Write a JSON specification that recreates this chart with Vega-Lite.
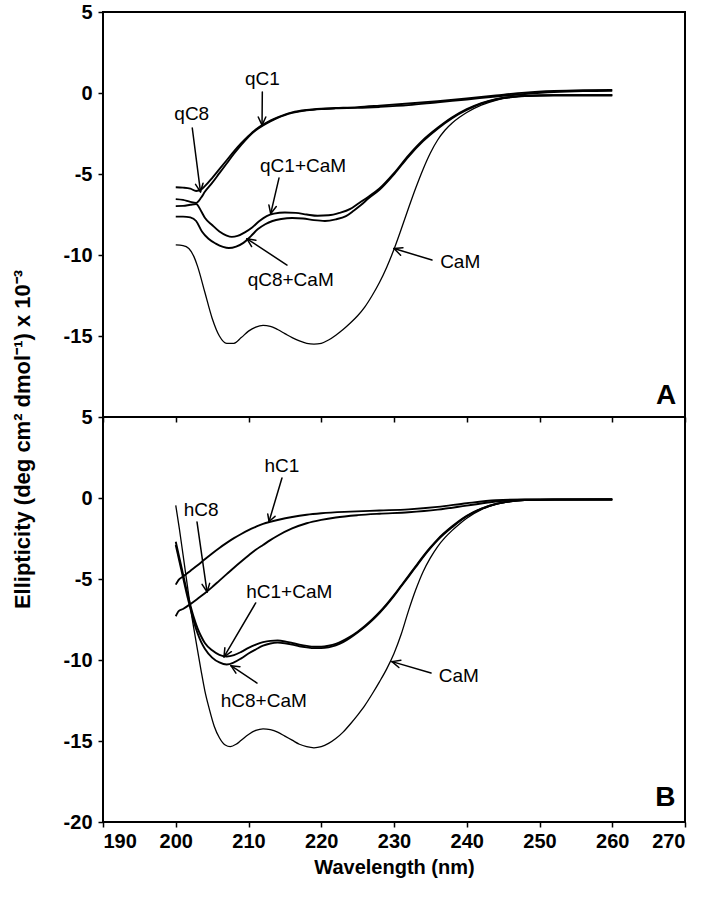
{
  "$schema": "https://vega.github.io/schema/vega-lite/v6.json",
  "background": "white",
  "padding": {"left": 12, "top": 1, "right": 10, "bottom": 10},
  "bounds": "flush",
  "spacing": 0,
  "title": {"text": "Ellipticity (deg cm² dmol⁻¹) x 10⁻³", "orient": "left", "anchor": "middle", "fontSize": 22, "font": "Liberation Sans", "fontWeight": "bold", "color": "black", "offset": 27},
  "config": {
    "view": {"stroke": "black", "strokeWidth": 2},
    "axis": {"labelFont": "Liberation Sans", "labelFontWeight": "bold", "labelFontSize": 20, "labelColor": "black", "grid": false, "domain": false, "tickColor": "black", "tickWidth": 1.5, "tickSize": 5, "titleFont": "Liberation Sans", "titleColor": "black", "titleFontWeight": "bold"}
  },
  "datasets": {
    "A": [
      {"s":"CaM","w":200,"e":-9.38},{"s":"CaM","w":201,"e":-9.42},{"s":"CaM","w":201.8,"e":-9.6},{"s":"CaM","w":202.5,"e":-10.1},{"s":"CaM","w":203,"e":-10.7},{"s":"CaM","w":204,"e":-12.3},{"s":"CaM","w":205,"e":-13.9},{"s":"CaM","w":206,"e":-15.0},{"s":"CaM","w":207,"e":-15.45},{"s":"CaM","w":208,"e":-15.45},{"s":"CaM","w":209,"e":-15.1},{"s":"CaM","w":210,"e":-14.7},{"s":"CaM","w":211,"e":-14.45},{"s":"CaM","w":212,"e":-14.35},{"s":"CaM","w":213,"e":-14.4},{"s":"CaM","w":214,"e":-14.6},{"s":"CaM","w":215,"e":-14.85},{"s":"CaM","w":216,"e":-15.1},{"s":"CaM","w":217,"e":-15.3},{"s":"CaM","w":218,"e":-15.45},{"s":"CaM","w":219,"e":-15.5},{"s":"CaM","w":220,"e":-15.45},{"s":"CaM","w":221,"e":-15.25},{"s":"CaM","w":222,"e":-14.95},{"s":"CaM","w":223,"e":-14.6},{"s":"CaM","w":224,"e":-14.2},{"s":"CaM","w":225,"e":-13.75},{"s":"CaM","w":226,"e":-13.2},{"s":"CaM","w":227,"e":-12.5},{"s":"CaM","w":228,"e":-11.7},{"s":"CaM","w":229,"e":-10.75},{"s":"CaM","w":230,"e":-9.65},{"s":"CaM","w":231,"e":-8.4},{"s":"CaM","w":232,"e":-7.1},{"s":"CaM","w":233,"e":-5.85},{"s":"CaM","w":234,"e":-4.7},{"s":"CaM","w":235,"e":-3.7},{"s":"CaM","w":236,"e":-2.9},{"s":"CaM","w":237,"e":-2.3},{"s":"CaM","w":238,"e":-1.85},{"s":"CaM","w":239,"e":-1.5},{"s":"CaM","w":240,"e":-1.2},{"s":"CaM","w":242,"e":-0.75},{"s":"CaM","w":244,"e":-0.45},{"s":"CaM","w":246,"e":-0.27},{"s":"CaM","w":248,"e":-0.18},{"s":"CaM","w":250,"e":-0.14},{"s":"CaM","w":255,"e":-0.12},{"s":"CaM","w":260,"e":-0.12},
      {"s":"qC8","w":200,"e":-5.82},{"s":"qC8","w":201,"e":-5.84},{"s":"qC8","w":202,"e":-5.9},{"s":"qC8","w":202.8,"e":-6.05},{"s":"qC8","w":203.5,"e":-5.95},{"s":"qC8","w":204,"e":-5.75},{"s":"qC8","w":205,"e":-5.25},{"s":"qC8","w":206,"e":-4.7},{"s":"qC8","w":207,"e":-4.15},{"s":"qC8","w":208,"e":-3.6},{"s":"qC8","w":209,"e":-3.1},{"s":"qC8","w":210,"e":-2.65},{"s":"qC8","w":211,"e":-2.25},{"s":"qC8","w":212,"e":-1.95},{"s":"qC8","w":213,"e":-1.7},{"s":"qC8","w":214,"e":-1.5},{"s":"qC8","w":215,"e":-1.33},{"s":"qC8","w":216,"e":-1.2},{"s":"qC8","w":218,"e":-1.05},{"s":"qC8","w":220,"e":-0.97},{"s":"qC8","w":222,"e":-0.93},{"s":"qC8","w":225,"e":-0.87},{"s":"qC8","w":228,"e":-0.78},{"s":"qC8","w":232,"e":-0.65},{"s":"qC8","w":236,"e":-0.5},{"s":"qC8","w":240,"e":-0.33},{"s":"qC8","w":244,"e":-0.15},{"s":"qC8","w":248,"e":0.02},{"s":"qC8","w":252,"e":0.12},{"s":"qC8","w":256,"e":0.17},{"s":"qC8","w":260,"e":0.19},
      {"s":"qC1","w":200,"e":-6.55},{"s":"qC1","w":201,"e":-6.6},{"s":"qC1","w":202,"e":-6.72},{"s":"qC1","w":202.8,"e":-6.78},{"s":"qC1","w":203.5,"e":-6.45},{"s":"qC1","w":204,"e":-6.1},{"s":"qC1","w":205,"e":-5.55},{"s":"qC1","w":206,"e":-4.95},{"s":"qC1","w":207,"e":-4.35},{"s":"qC1","w":208,"e":-3.75},{"s":"qC1","w":209,"e":-3.2},{"s":"qC1","w":210,"e":-2.7},{"s":"qC1","w":211,"e":-2.3},{"s":"qC1","w":212,"e":-2.0},{"s":"qC1","w":213,"e":-1.75},{"s":"qC1","w":214,"e":-1.53},{"s":"qC1","w":215,"e":-1.36},{"s":"qC1","w":216,"e":-1.23},{"s":"qC1","w":218,"e":-1.07},{"s":"qC1","w":220,"e":-0.99},{"s":"qC1","w":222,"e":-0.95},{"s":"qC1","w":225,"e":-0.92},{"s":"qC1","w":228,"e":-0.86},{"s":"qC1","w":232,"e":-0.75},{"s":"qC1","w":236,"e":-0.57},{"s":"qC1","w":240,"e":-0.4},{"s":"qC1","w":244,"e":-0.22},{"s":"qC1","w":248,"e":-0.06},{"s":"qC1","w":252,"e":0.06},{"s":"qC1","w":256,"e":0.12},{"s":"qC1","w":260,"e":0.14},
      {"s":"qC1+CaM","w":200,"e":-6.98},{"s":"qC1+CaM","w":201,"e":-6.97},{"s":"qC1+CaM","w":202,"e":-6.9},{"s":"qC1+CaM","w":202.8,"e":-6.85},{"s":"qC1+CaM","w":203.5,"e":-7.3},{"s":"qC1+CaM","w":204,"e":-7.7},{"s":"qC1+CaM","w":205,"e":-8.15},{"s":"qC1+CaM","w":206,"e":-8.55},{"s":"qC1+CaM","w":207,"e":-8.8},{"s":"qC1+CaM","w":207.7,"e":-8.88},{"s":"qC1+CaM","w":208.5,"e":-8.82},{"s":"qC1+CaM","w":209.5,"e":-8.6},{"s":"qC1+CaM","w":210.5,"e":-8.3},{"s":"qC1+CaM","w":211.5,"e":-7.9},{"s":"qC1+CaM","w":212.5,"e":-7.6},{"s":"qC1+CaM","w":213.5,"e":-7.45},{"s":"qC1+CaM","w":215,"e":-7.38},{"s":"qC1+CaM","w":216.5,"e":-7.4},{"s":"qC1+CaM","w":218,"e":-7.5},{"s":"qC1+CaM","w":219.5,"e":-7.58},{"s":"qC1+CaM","w":221,"e":-7.55},{"s":"qC1+CaM","w":222.5,"e":-7.4},{"s":"qC1+CaM","w":224,"e":-7.15},{"s":"qC1+CaM","w":225,"e":-6.85},{"s":"qC1+CaM","w":226.5,"e":-6.4},{"s":"qC1+CaM","w":228,"e":-5.9},{"s":"qC1+CaM","w":230,"e":-4.95},{"s":"qC1+CaM","w":232,"e":-3.85},{"s":"qC1+CaM","w":234,"e":-2.9},{"s":"qC1+CaM","w":236,"e":-2.15},{"s":"qC1+CaM","w":238,"e":-1.5},{"s":"qC1+CaM","w":240,"e":-1.0},{"s":"qC1+CaM","w":242,"e":-0.62},{"s":"qC1+CaM","w":244,"e":-0.38},{"s":"qC1+CaM","w":246,"e":-0.24},{"s":"qC1+CaM","w":248,"e":-0.17},{"s":"qC1+CaM","w":252,"e":-0.13},{"s":"qC1+CaM","w":260,"e":-0.13},
      {"s":"qC8+CaM","w":200,"e":-7.63},{"s":"qC8+CaM","w":201,"e":-7.63},{"s":"qC8+CaM","w":202,"e":-7.68},{"s":"qC8+CaM","w":202.8,"e":-7.9},{"s":"qC8+CaM","w":203.6,"e":-8.55},{"s":"qC8+CaM","w":204.5,"e":-9.0},{"s":"qC8+CaM","w":205.5,"e":-9.3},{"s":"qC8+CaM","w":206.5,"e":-9.5},{"s":"qC8+CaM","w":207.3,"e":-9.57},{"s":"qC8+CaM","w":208.3,"e":-9.48},{"s":"qC8+CaM","w":209.3,"e":-9.25},{"s":"qC8+CaM","w":210.3,"e":-8.85},{"s":"qC8+CaM","w":211.3,"e":-8.4},{"s":"qC8+CaM","w":212.3,"e":-8.1},{"s":"qC8+CaM","w":213.3,"e":-7.9},{"s":"qC8+CaM","w":214.5,"e":-7.78},{"s":"qC8+CaM","w":216,"e":-7.72},{"s":"qC8+CaM","w":217.5,"e":-7.75},{"s":"qC8+CaM","w":219,"e":-7.85},{"s":"qC8+CaM","w":220.5,"e":-7.9},{"s":"qC8+CaM","w":222,"e":-7.8},{"s":"qC8+CaM","w":223.4,"e":-7.6},{"s":"qC8+CaM","w":224.5,"e":-7.25},{"s":"qC8+CaM","w":225.5,"e":-6.9},{"s":"qC8+CaM","w":226.5,"e":-6.5},{"s":"qC8+CaM","w":228,"e":-5.98},{"s":"qC8+CaM","w":230,"e":-5.02},{"s":"qC8+CaM","w":232,"e":-3.92},{"s":"qC8+CaM","w":234,"e":-2.97},{"s":"qC8+CaM","w":236,"e":-2.2},{"s":"qC8+CaM","w":238,"e":-1.55},{"s":"qC8+CaM","w":240,"e":-1.05},{"s":"qC8+CaM","w":242,"e":-0.66},{"s":"qC8+CaM","w":244,"e":-0.4},{"s":"qC8+CaM","w":246,"e":-0.26},{"s":"qC8+CaM","w":248,"e":-0.19},{"s":"qC8+CaM","w":252,"e":-0.15},{"s":"qC8+CaM","w":260,"e":-0.15}
    ],
    "B": [
      {"s":"CaM","w":200,"e":-0.45},{"s":"CaM","w":200.5,"e":-1.9},{"s":"CaM","w":201,"e":-3.5},{"s":"CaM","w":201.5,"e":-5.1},{"s":"CaM","w":202,"e":-6.7},{"s":"CaM","w":202.5,"e":-8.1},{"s":"CaM","w":203,"e":-9.4},{"s":"CaM","w":203.5,"e":-10.7},{"s":"CaM","w":204,"e":-11.9},{"s":"CaM","w":204.6,"e":-13.0},{"s":"CaM","w":205.3,"e":-14.1},{"s":"CaM","w":206,"e":-14.8},{"s":"CaM","w":206.8,"e":-15.25},{"s":"CaM","w":207.5,"e":-15.35},{"s":"CaM","w":208.3,"e":-15.2},{"s":"CaM","w":209,"e":-14.95},{"s":"CaM","w":210,"e":-14.6},{"s":"CaM","w":211,"e":-14.35},{"s":"CaM","w":212,"e":-14.25},{"s":"CaM","w":213,"e":-14.3},{"s":"CaM","w":214,"e":-14.45},{"s":"CaM","w":215,"e":-14.7},{"s":"CaM","w":216,"e":-14.95},{"s":"CaM","w":217,"e":-15.2},{"s":"CaM","w":218,"e":-15.35},{"s":"CaM","w":219,"e":-15.42},{"s":"CaM","w":220,"e":-15.35},{"s":"CaM","w":221,"e":-15.15},{"s":"CaM","w":222,"e":-14.85},{"s":"CaM","w":223,"e":-14.45},{"s":"CaM","w":224,"e":-13.95},{"s":"CaM","w":225,"e":-13.4},{"s":"CaM","w":226,"e":-12.8},{"s":"CaM","w":227,"e":-12.1},{"s":"CaM","w":228,"e":-11.35},{"s":"CaM","w":229,"e":-10.55},{"s":"CaM","w":230,"e":-9.6},{"s":"CaM","w":231,"e":-8.4},{"s":"CaM","w":232,"e":-6.95},{"s":"CaM","w":233,"e":-5.65},{"s":"CaM","w":234,"e":-4.55},{"s":"CaM","w":235,"e":-3.7},{"s":"CaM","w":236,"e":-3.0},{"s":"CaM","w":237,"e":-2.45},{"s":"CaM","w":238,"e":-2.0},{"s":"CaM","w":239,"e":-1.6},{"s":"CaM","w":240,"e":-1.25},{"s":"CaM","w":242,"e":-0.72},{"s":"CaM","w":244,"e":-0.4},{"s":"CaM","w":246,"e":-0.22},{"s":"CaM","w":248,"e":-0.14},{"s":"CaM","w":250,"e":-0.1},{"s":"CaM","w":260,"e":-0.1},
      {"s":"hC1","w":200,"e":-5.35},{"s":"hC1","w":200.4,"e":-5.05},{"s":"hC1","w":201,"e":-4.85},{"s":"hC1","w":202,"e":-4.5},{"s":"hC1","w":203,"e":-4.15},{"s":"hC1","w":204,"e":-3.78},{"s":"hC1","w":205,"e":-3.42},{"s":"hC1","w":206,"e":-3.08},{"s":"hC1","w":207,"e":-2.77},{"s":"hC1","w":208,"e":-2.48},{"s":"hC1","w":209,"e":-2.22},{"s":"hC1","w":210,"e":-1.98},{"s":"hC1","w":211,"e":-1.78},{"s":"hC1","w":212,"e":-1.6},{"s":"hC1","w":213,"e":-1.47},{"s":"hC1","w":214,"e":-1.36},{"s":"hC1","w":216,"e":-1.17},{"s":"hC1","w":218,"e":-1.03},{"s":"hC1","w":220,"e":-0.94},{"s":"hC1","w":224,"e":-0.84},{"s":"hC1","w":228,"e":-0.77},{"s":"hC1","w":232,"e":-0.7},{"s":"hC1","w":236,"e":-0.55},{"s":"hC1","w":240,"e":-0.32},{"s":"hC1","w":244,"e":-0.14},{"s":"hC1","w":248,"e":-0.09},{"s":"hC1","w":260,"e":-0.08},
      {"s":"hC8","w":200,"e":-7.3},{"s":"hC8","w":200.4,"e":-6.98},{"s":"hC8","w":201,"e":-6.85},{"s":"hC8","w":202,"e":-6.55},{"s":"hC8","w":203,"e":-6.22},{"s":"hC8","w":204,"e":-5.88},{"s":"hC8","w":205,"e":-5.5},{"s":"hC8","w":206,"e":-5.1},{"s":"hC8","w":207,"e":-4.7},{"s":"hC8","w":208,"e":-4.3},{"s":"hC8","w":209,"e":-3.92},{"s":"hC8","w":210,"e":-3.55},{"s":"hC8","w":211,"e":-3.2},{"s":"hC8","w":212,"e":-2.9},{"s":"hC8","w":213,"e":-2.6},{"s":"hC8","w":214,"e":-2.33},{"s":"hC8","w":216,"e":-1.88},{"s":"hC8","w":218,"e":-1.56},{"s":"hC8","w":220,"e":-1.35},{"s":"hC8","w":222,"e":-1.2},{"s":"hC8","w":225,"e":-1.06},{"s":"hC8","w":228,"e":-0.97},{"s":"hC8","w":232,"e":-0.88},{"s":"hC8","w":236,"e":-0.72},{"s":"hC8","w":240,"e":-0.47},{"s":"hC8","w":244,"e":-0.22},{"s":"hC8","w":248,"e":-0.1},{"s":"hC8","w":260,"e":-0.08},
      {"s":"hC1+CaM","w":200,"e":-2.7},{"s":"hC1+CaM","w":200.5,"e":-3.7},{"s":"hC1+CaM","w":201,"e":-4.7},{"s":"hC1+CaM","w":201.5,"e":-5.7},{"s":"hC1+CaM","w":202,"e":-6.6},{"s":"hC1+CaM","w":202.5,"e":-7.4},{"s":"hC1+CaM","w":203,"e":-8.05},{"s":"hC1+CaM","w":203.5,"e":-8.55},{"s":"hC1+CaM","w":204,"e":-8.95},{"s":"hC1+CaM","w":205,"e":-9.4},{"s":"hC1+CaM","w":206,"e":-9.68},{"s":"hC1+CaM","w":207,"e":-9.78},{"s":"hC1+CaM","w":208,"e":-9.7},{"s":"hC1+CaM","w":209,"e":-9.5},{"s":"hC1+CaM","w":210,"e":-9.25},{"s":"hC1+CaM","w":211,"e":-9.05},{"s":"hC1+CaM","w":212,"e":-8.9},{"s":"hC1+CaM","w":213,"e":-8.82},{"s":"hC1+CaM","w":214,"e":-8.8},{"s":"hC1+CaM","w":215,"e":-8.85},{"s":"hC1+CaM","w":216,"e":-8.95},{"s":"hC1+CaM","w":217,"e":-9.05},{"s":"hC1+CaM","w":218,"e":-9.13},{"s":"hC1+CaM","w":219,"e":-9.18},{"s":"hC1+CaM","w":220,"e":-9.18},{"s":"hC1+CaM","w":221,"e":-9.12},{"s":"hC1+CaM","w":222,"e":-9.0},{"s":"hC1+CaM","w":223,"e":-8.8},{"s":"hC1+CaM","w":224,"e":-8.55},{"s":"hC1+CaM","w":225,"e":-8.25},{"s":"hC1+CaM","w":226,"e":-7.9},{"s":"hC1+CaM","w":227,"e":-7.5},{"s":"hC1+CaM","w":228,"e":-7.05},{"s":"hC1+CaM","w":229,"e":-6.55},{"s":"hC1+CaM","w":230,"e":-6.0},{"s":"hC1+CaM","w":231,"e":-5.4},{"s":"hC1+CaM","w":232,"e":-4.8},{"s":"hC1+CaM","w":233,"e":-4.2},{"s":"hC1+CaM","w":234,"e":-3.6},{"s":"hC1+CaM","w":235,"e":-3.05},{"s":"hC1+CaM","w":236,"e":-2.55},{"s":"hC1+CaM","w":238,"e":-1.75},{"s":"hC1+CaM","w":240,"e":-1.1},{"s":"hC1+CaM","w":242,"e":-0.65},{"s":"hC1+CaM","w":244,"e":-0.36},{"s":"hC1+CaM","w":246,"e":-0.2},{"s":"hC1+CaM","w":248,"e":-0.13},{"s":"hC1+CaM","w":252,"e":-0.1},{"s":"hC1+CaM","w":260,"e":-0.1},
      {"s":"hC8+CaM","w":200,"e":-2.9},{"s":"hC8+CaM","w":200.5,"e":-3.9},{"s":"hC8+CaM","w":201,"e":-4.9},{"s":"hC8+CaM","w":201.5,"e":-5.9},{"s":"hC8+CaM","w":202,"e":-6.8},{"s":"hC8+CaM","w":202.5,"e":-7.65},{"s":"hC8+CaM","w":203,"e":-8.35},{"s":"hC8+CaM","w":203.5,"e":-8.9},{"s":"hC8+CaM","w":204,"e":-9.3},{"s":"hC8+CaM","w":205,"e":-9.85},{"s":"hC8+CaM","w":206,"e":-10.15},{"s":"hC8+CaM","w":207,"e":-10.28},{"s":"hC8+CaM","w":208,"e":-10.15},{"s":"hC8+CaM","w":209,"e":-9.9},{"s":"hC8+CaM","w":210,"e":-9.6},{"s":"hC8+CaM","w":211,"e":-9.35},{"s":"hC8+CaM","w":212,"e":-9.12},{"s":"hC8+CaM","w":213,"e":-8.98},{"s":"hC8+CaM","w":214,"e":-8.93},{"s":"hC8+CaM","w":215,"e":-8.97},{"s":"hC8+CaM","w":216,"e":-9.05},{"s":"hC8+CaM","w":217,"e":-9.15},{"s":"hC8+CaM","w":218,"e":-9.22},{"s":"hC8+CaM","w":219,"e":-9.27},{"s":"hC8+CaM","w":220,"e":-9.27},{"s":"hC8+CaM","w":221,"e":-9.22},{"s":"hC8+CaM","w":222,"e":-9.1},{"s":"hC8+CaM","w":223,"e":-8.9},{"s":"hC8+CaM","w":224,"e":-8.62},{"s":"hC8+CaM","w":225,"e":-8.3},{"s":"hC8+CaM","w":226,"e":-7.95},{"s":"hC8+CaM","w":227,"e":-7.55},{"s":"hC8+CaM","w":228,"e":-7.1},{"s":"hC8+CaM","w":229,"e":-6.6},{"s":"hC8+CaM","w":230,"e":-6.05},{"s":"hC8+CaM","w":231,"e":-5.45},{"s":"hC8+CaM","w":232,"e":-4.85},{"s":"hC8+CaM","w":233,"e":-4.25},{"s":"hC8+CaM","w":234,"e":-3.65},{"s":"hC8+CaM","w":235,"e":-3.1},{"s":"hC8+CaM","w":236,"e":-2.6},{"s":"hC8+CaM","w":238,"e":-1.8},{"s":"hC8+CaM","w":240,"e":-1.13},{"s":"hC8+CaM","w":242,"e":-0.67},{"s":"hC8+CaM","w":244,"e":-0.37},{"s":"hC8+CaM","w":246,"e":-0.21},{"s":"hC8+CaM","w":248,"e":-0.13},{"s":"hC8+CaM","w":252,"e":-0.1},{"s":"hC8+CaM","w":260,"e":-0.1}
    ],
    "arrA": [
      {"x":211.9,"y":0.06,"x2":211.86,"y2":-1.98},{"x":212.38,"y":-1.48,"x2":211.86,"y2":-1.98},{"x":211.34,"y":-1.48,"x2":211.86,"y2":-1.98},
      {"x":202.27,"y":-2.16,"x2":203.4,"y2":-6.1},{"x":203.75,"y":-5.57,"x2":203.4,"y2":-6.1},{"x":202.72,"y":-5.64,"x2":203.4,"y2":-6.1},
      {"x":214.19,"y":-5.25,"x2":213.05,"y2":-7.45},{"x":213.82,"y":-7.01,"x2":213.05,"y2":-7.45},{"x":212.8,"y":-6.91,"x2":213.05,"y2":-7.45},
      {"x":215.29,"y":-10.62,"x2":209.79,"y2":-9.0},{"x":210.43,"y":-9.48,"x2":209.79,"y2":-9.0},{"x":211.01,"y":-9.09,"x2":209.79,"y2":-9.0},
      {"x":235.22,"y":-10.31,"x2":230.0,"y2":-9.6},{"x":230.91,"y":-10.01,"x2":230.0,"y2":-9.6},{"x":231.23,"y":-9.56,"x2":230.0,"y2":-9.6}
    ],
    "arrB": [
      {"x":214.6,"y":1.23,"x2":212.82,"y2":-1.45},{"x":213.65,"y":-1.13,"x2":212.82,"y2":-1.45},{"x":212.65,"y":-0.99,"x2":212.82,"y2":-1.45},
      {"x":202.92,"y":-1.48,"x2":204.3,"y2":-5.8},{"x":204.66,"y":-5.27,"x2":204.3,"y2":-5.8},{"x":203.62,"y":-5.33,"x2":204.3,"y2":-5.8},
      {"x":210.99,"y":-6.48,"x2":206.63,"y2":-9.8},{"x":207.65,"y":-9.49,"x2":206.63,"y2":-9.8},{"x":206.75,"y":-9.25,"x2":206.63,"y2":-9.8},
      {"x":211.17,"y":-11.42,"x2":207.59,"y2":-10.35},{"x":208.27,"y":-10.81,"x2":207.59,"y2":-10.35},{"x":208.82,"y":-10.41,"x2":207.59,"y2":-10.35},
      {"x":235.09,"y":-10.8,"x2":229.73,"y2":-10.1},{"x":230.67,"y":-10.46,"x2":229.73,"y2":-10.1},{"x":230.95,"y":-10.01,"x2":229.73,"y2":-10.1}
    ],
    "labA": [
      {"t":"qC1","w":211.9,"e":0.86},{"t":"qC8","w":202.2,"e":-1.3},{"t":"qC1+CaM","w":217.5,"e":-4.5},{"t":"qC8+CaM","w":215.8,"e":-11.55},{"t":"CaM","w":239.1,"e":-10.46}
    ],
    "labB": [
      {"t":"hC1","w":214.6,"e":1.98},{"t":"hC8","w":203.5,"e":-0.74},{"t":"hC1+CaM","w":215.6,"e":-5.8},{"t":"hC8+CaM","w":212.1,"e":-12.5},{"t":"CaM","w":238.9,"e":-11.0}
    ],
    "panA": [{"t":"A","w":267.4,"e":-18.7}],
    "panB": [{"t":"B","w":267.3,"e":-18.5}]
  },
  "vconcat": [
    {
      "width": 582,
      "height": 405,
      "layer": [
        {
          "data": {"name": "A"},
          "mark": {"type": "line", "interpolate": "monotone", "color": "black"},
          "encoding": {
            "x": {"field": "w", "type": "quantitative", "scale": {"domain": [190, 270], "nice": false}, "axis": {"orient": "bottom", "labels": false, "title": null, "values": [190, 200, 210, 220, 230, 240, 250, 260, 270], "tickSize": 5}},
            "y": {"field": "e", "type": "quantitative", "scale": {"domain": [-20, 5], "nice": false}, "axis": {"values": [5, 0, -5, -10, -15], "title": null, "labelPadding": 6, "labelExpr": "'' + datum.value"}},
            "detail": {"field": "s"},
            "strokeWidth": {"condition": {"test": "datum.s === 'CaM'", "value": 1.3}, "value": 1.9}
          }
        },
        {
          "data": {"name": "arrA"},
          "mark": {"type": "rule", "color": "black", "strokeWidth": 1.5, "strokeCap": "round"},
          "encoding": {
            "x": {"field": "x", "type": "quantitative"},
            "y": {"field": "y", "type": "quantitative"},
            "x2": {"field": "x2"},
            "y2": {"field": "y2"}
          }
        },
        {
          "data": {"name": "labA"},
          "mark": {"type": "text", "font": "Liberation Sans", "fontSize": 19, "color": "black", "align": "center", "baseline": "middle"},
          "encoding": {
            "x": {"field": "w", "type": "quantitative"},
            "y": {"field": "e", "type": "quantitative"},
            "text": {"field": "t"}
          }
        },
        {
          "data": {"name": "panA"},
          "mark": {"type": "text", "font": "Liberation Sans", "fontSize": 28, "fontWeight": "bold", "color": "black", "align": "center", "baseline": "middle"},
          "encoding": {
            "x": {"field": "w", "type": "quantitative"},
            "y": {"field": "e", "type": "quantitative"},
            "text": {"field": "t"}
          }
        }
      ]
    },
    {
      "width": 582,
      "height": 405,
      "layer": [
        {
          "data": {"name": "B"},
          "mark": {"type": "line", "interpolate": "monotone", "color": "black"},
          "encoding": {
            "x": {"field": "w", "type": "quantitative", "scale": {"domain": [190, 270], "nice": false}, "axis": {"values": [190, 200, 210, 220, 230, 240, 250, 260, 270], "title": "Wavelength (nm)", "titleFontSize": 20, "titlePadding": 6, "labelPadding": 4, "tickSize": 5}},
            "y": {"field": "e", "type": "quantitative", "scale": {"domain": [-20, 5], "nice": false}, "axis": {"values": [5, 0, -5, -10, -15, -20], "title": null, "labelPadding": 6, "labelExpr": "'' + datum.value"}},
            "detail": {"field": "s"},
            "strokeWidth": {"condition": {"test": "datum.s === 'CaM'", "value": 1.3}, "value": 1.9}
          }
        },
        {
          "data": {"name": "arrB"},
          "mark": {"type": "rule", "color": "black", "strokeWidth": 1.5, "strokeCap": "round"},
          "encoding": {
            "x": {"field": "x", "type": "quantitative"},
            "y": {"field": "y", "type": "quantitative"},
            "x2": {"field": "x2"},
            "y2": {"field": "y2"}
          }
        },
        {
          "data": {"name": "labB"},
          "mark": {"type": "text", "font": "Liberation Sans", "fontSize": 19, "color": "black", "align": "center", "baseline": "middle"},
          "encoding": {
            "x": {"field": "w", "type": "quantitative"},
            "y": {"field": "e", "type": "quantitative"},
            "text": {"field": "t"}
          }
        },
        {
          "data": {"name": "panB"},
          "mark": {"type": "text", "font": "Liberation Sans", "fontSize": 28, "fontWeight": "bold", "color": "black", "align": "center", "baseline": "middle"},
          "encoding": {
            "x": {"field": "w", "type": "quantitative"},
            "y": {"field": "e", "type": "quantitative"},
            "text": {"field": "t"}
          }
        }
      ]
    }
  ]
}
